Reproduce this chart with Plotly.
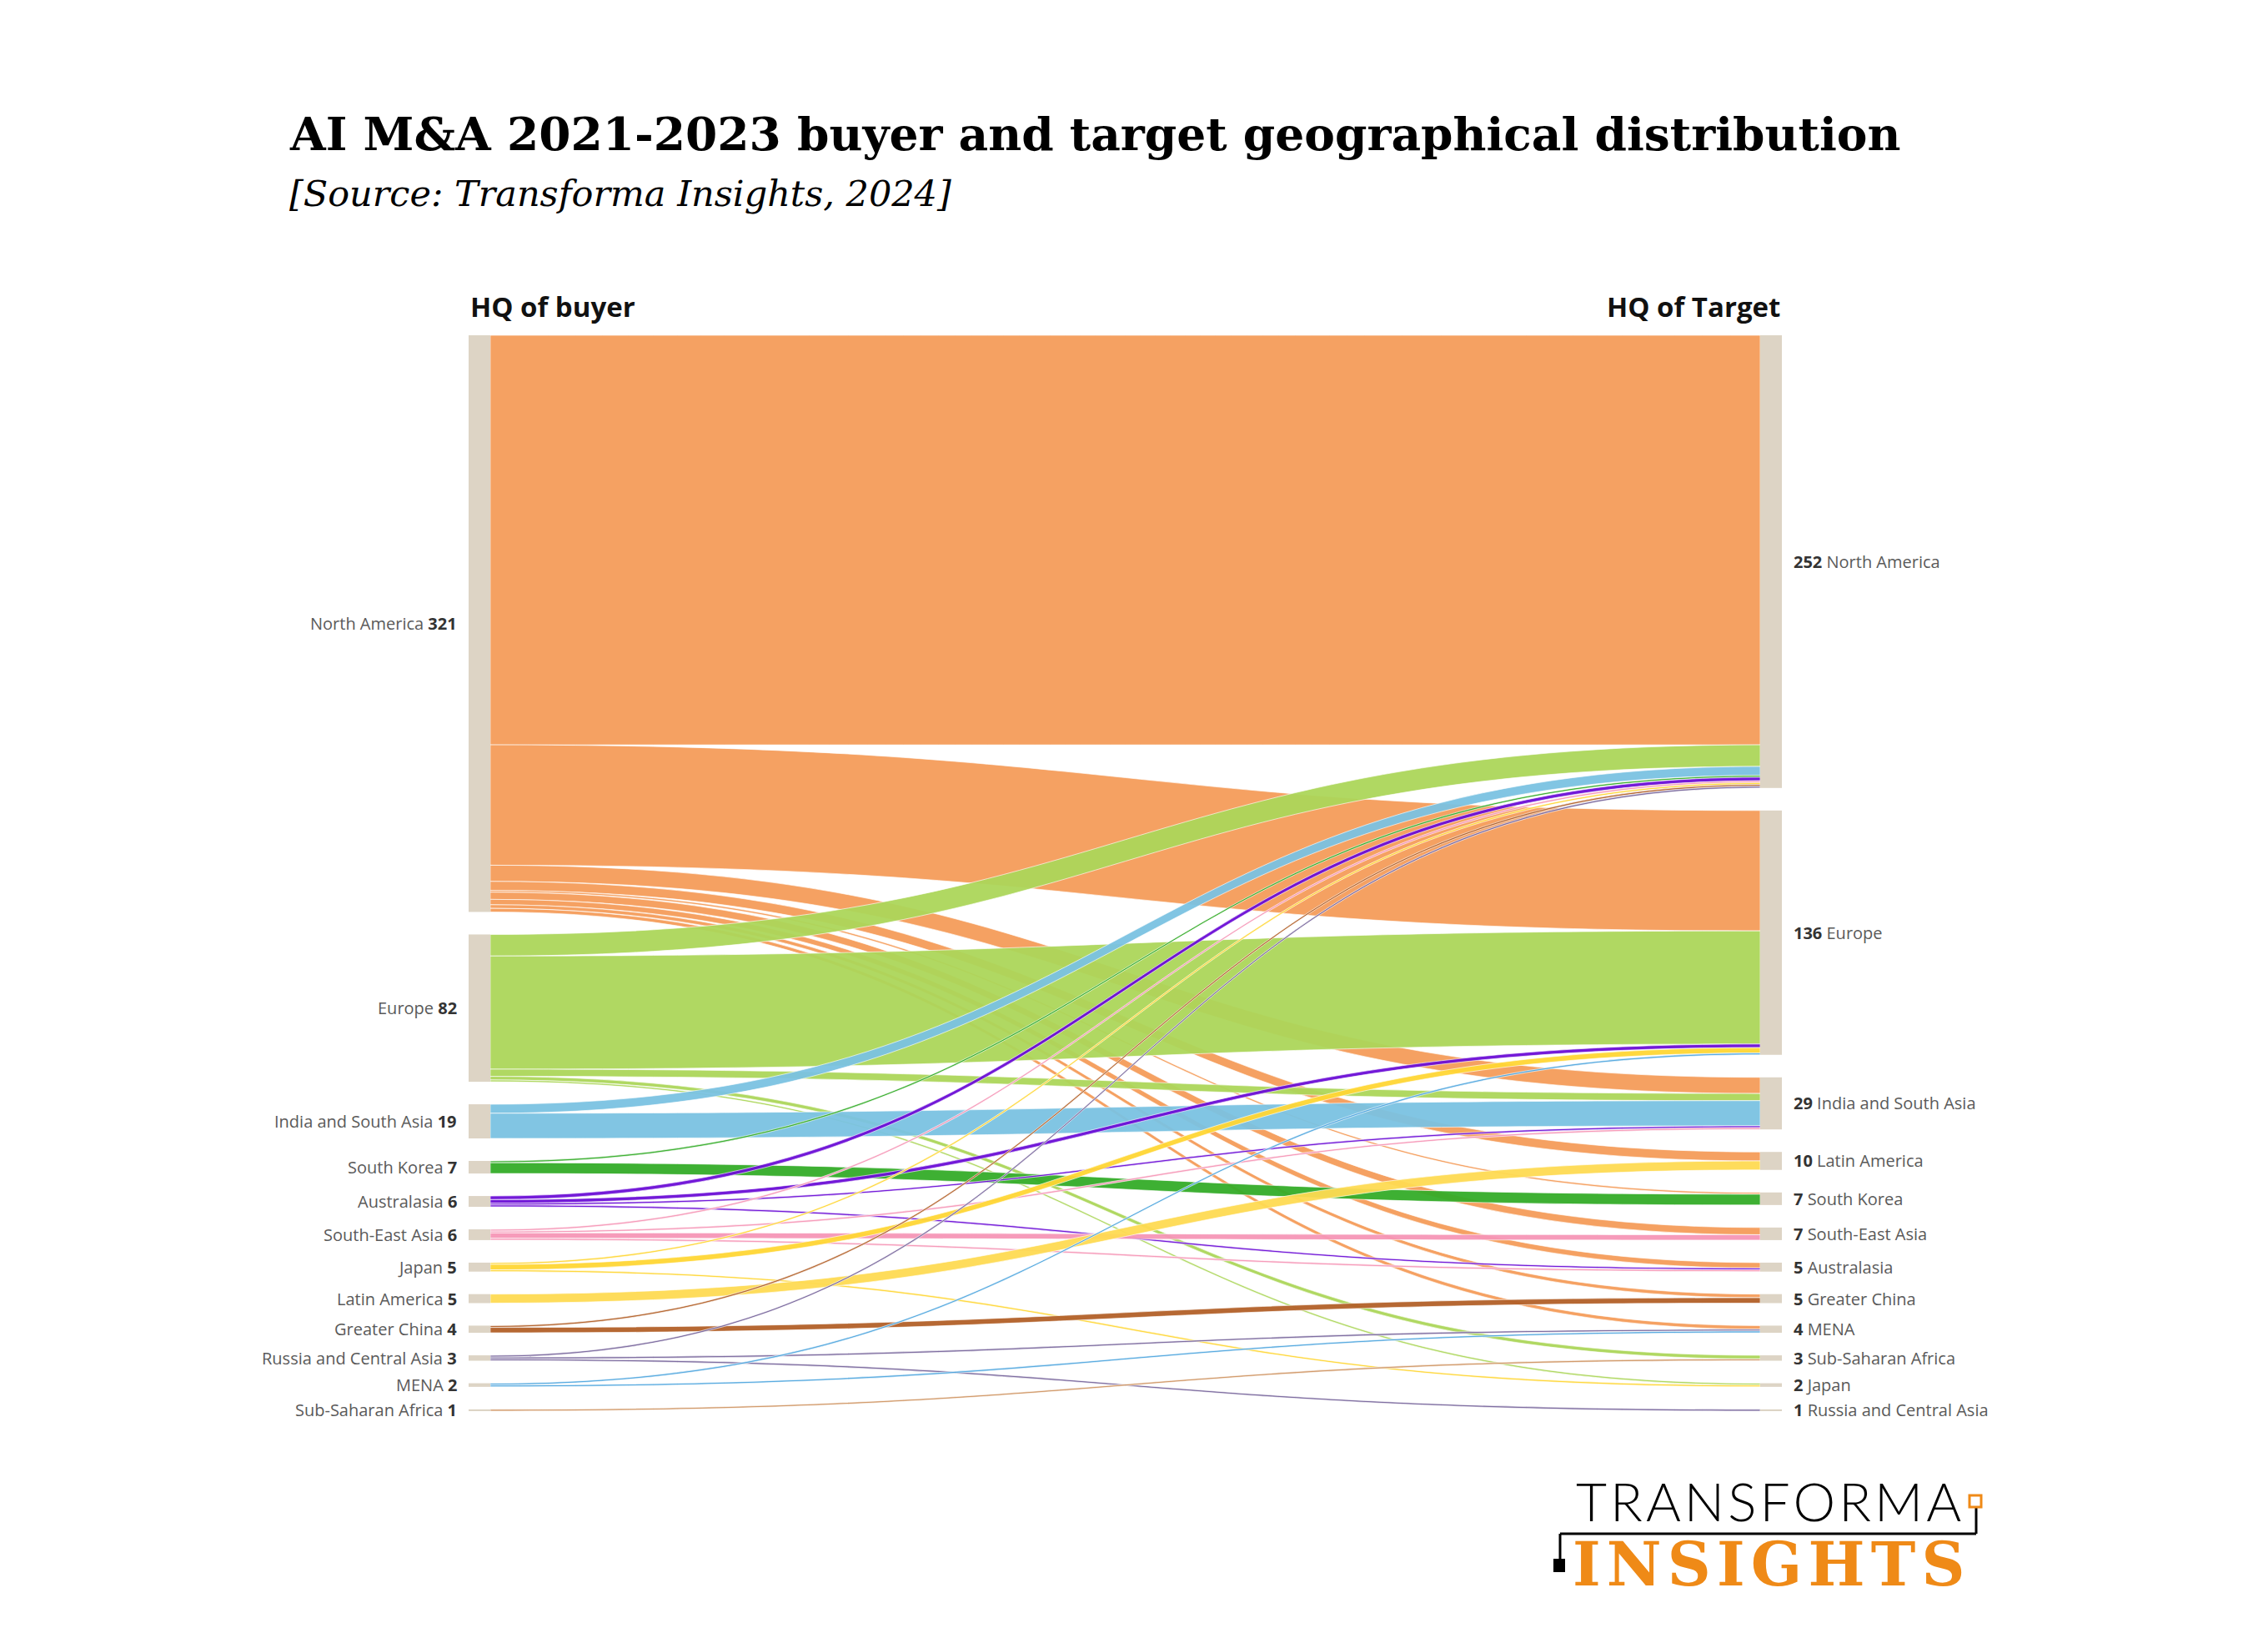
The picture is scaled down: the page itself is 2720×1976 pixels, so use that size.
import plotly.graph_objects as go

# ---------------- data ----------------
BUYERS = ["North America", "Europe", "India and South Asia", "South Korea", "Australasia",
          "South-East Asia", "Japan", "Latin America", "Greater China",
          "Russia and Central Asia", "MENA", "Sub-Saharan Africa"]
TARGETS = ["North America", "Europe", "India and South Asia", "Latin America", "South Korea",
           "South-East Asia", "Australasia", "Greater China", "MENA", "Sub-Saharan Africa",
           "Japan", "Russia and Central Asia"]

# deals by buyer HQ -> target HQ
FLOW_BUYER = ["North America"] * 9 + ["Europe"] * 5 + ["India and South Asia"] * 2 + \
             ["South Korea"] * 2 + ["Australasia"] * 4 + ["South-East Asia"] * 4 + \
             ["Japan"] * 3 + ["Latin America"] + ["Greater China"] * 2 + \
             ["Russia and Central Asia"] * 3 + ["MENA"] * 2 + ["Sub-Saharan Africa"]
FLOW_TARGET = ["North America", "Europe", "India and South Asia", "Latin America", "South Korea",
               "South-East Asia", "Australasia", "Greater China", "MENA",
               "North America", "Europe", "India and South Asia", "Sub-Saharan Africa", "Japan",
               "North America", "India and South Asia",
               "North America", "South Korea",
               "North America", "Europe", "India and South Asia", "Australasia",
               "North America", "India and South Asia", "South-East Asia", "Australasia",
               "North America", "Europe", "Japan",
               "Latin America",
               "North America", "Greater China",
               "North America", "MENA", "Russia and Central Asia",
               "Europe", "MENA",
               "Sub-Saharan Africa"]
FLOW_DEALS = [228, 67, 9, 5, 1, 4, 3, 2, 2,
              12, 63, 4, 2, 1,
              5, 14,
              1, 6,
              2, 2, 1, 1,
              1, 1, 3, 1,
              1, 3, 1,
              5,
              1, 3,
              1, 1, 1,
              1, 1,
              1]

BUYER_COLORS = ["rgba(244,156,90,0.95)", "rgba(172,214,90,0.95)", "rgba(122,194,226,0.95)",
                "rgba(52,172,40,0.95)", "rgba(108,14,214,0.95)", "rgba(246,150,182,0.95)",
                "rgba(255,214,52,0.95)", "rgba(254,218,82,0.95)", "rgba(178,96,40,0.95)",
                "rgba(120,102,156,0.95)", "rgba(80,166,222,0.95)", "rgba(208,150,100,0.95)"]

# ---------------- geometry (page pixels) ----------------
PAGE_OFF = 8                      # default body margin of the html page
FIG_W, FIG_H = 2720 - 2 * PAGE_OFF, 1976 - 2 * PAGE_OFF
TOP_PX, BOTTOM_PX = 402, 1692
NODE_PAD = 27
NODE_THICK = 26
LEFT_CX, RIGHT_CX = 575, 2124
LABEL_GAP = 12


def px(x):
    return (x - PAGE_OFF) / FIG_W


def py(y):
    return 1 - (y - PAGE_OFF) / FIG_H


nb, nt = len(BUYERS), len(TARGETS)
buyer_tot = [sum(v for b, v in zip(FLOW_BUYER, FLOW_DEALS) if b == name) for name in BUYERS]
target_tot = [sum(v for t, v in zip(FLOW_TARGET, FLOW_DEALS) if t == name) for name in TARGETS]
H = BOTTOM_PX - TOP_PX
ky = (H - (nb - 1) * NODE_PAD) / sum(buyer_tot)


def centers(tots):
    out, cum = [], 0
    for i, v in enumerate(tots):
        out.append(cum * ky + i * NODE_PAD + v * ky / 2)
        cum += v
    return out


bc, tc = centers(buyer_tot), centers(target_tot)
DW = (RIGHT_CX - LEFT_CX) / 0.998
DX0 = LEFT_CX - 0.001 * DW

src = [BUYERS.index(b) for b in FLOW_BUYER]
tgt = [nb + TARGETS.index(t) for t in FLOW_TARGET]
lcol = [BUYER_COLORS[s] for s in src]

fig = go.Figure(go.Sankey(
    arrangement="fixed",
    domain=dict(x=[px(DX0), px(DX0 + DW)], y=[py(BOTTOM_PX), py(TOP_PX)]),
    node=dict(
        label=[""] * (nb + nt),
        customdata=BUYERS + TARGETS,
        hovertemplate="%{customdata}: %{value}<extra></extra>",
        x=[0.001] * nb + [0.999] * nt,
        y=[c / H for c in bc] + [c / H for c in tc],
        pad=NODE_PAD,
        thickness=NODE_THICK,
        color="#DDD4C5",
        line=dict(width=0),
    ),
    link=dict(source=src, target=tgt, value=FLOW_DEALS, color=lcol,
              line=dict(color="rgba(255,255,255,0.8)", width=0.8)),
))

ann = []
LBL_FONT = dict(family="Open Sans", size=20, color="#5a5a5a")
for name, v, c in zip(BUYERS, buyer_tot, bc):
    ann.append(dict(x=px(LEFT_CX - NODE_THICK / 2 - LABEL_GAP), y=py(TOP_PX + c), xanchor="right",
                    yanchor="middle", showarrow=False,
                    text=f"{name} <b><span style='color:#333333'>{v}</span></b>", font=LBL_FONT))
for name, v, c in zip(TARGETS, target_tot, tc):
    ann.append(dict(x=px(RIGHT_CX + NODE_THICK / 2 + LABEL_GAP), y=py(TOP_PX + c), xanchor="left",
                    yanchor="middle", showarrow=False,
                    text=f"<b><span style='color:#333333'>{v}</span></b> {name}", font=LBL_FONT))

HDR_FONT = dict(family="Open Sans", size=33, color="#111111")
ann.append(dict(x=px(LEFT_CX - NODE_THICK / 2), y=py(368), xanchor="left", yanchor="middle",
                showarrow=False, text="<b>HQ of buyer</b>", font=HDR_FONT))
ann.append(dict(x=px(RIGHT_CX + NODE_THICK / 2), y=py(368), xanchor="right", yanchor="middle",
                showarrow=False, text="<b>HQ of Target</b>", font=HDR_FONT))

ann.append(dict(x=px(345), y=py(161), xanchor="left", yanchor="middle", showarrow=False,
                text="<b>AI M&A 2021-2023 buyer and target geographical distribution</b>",
                font=dict(family="DejaVu Serif", size=55, color="#000000")))
ann.append(dict(x=px(345), y=py(232), xanchor="left", yanchor="middle", showarrow=False,
                text="<i>[Source: Transforma Insights, 2024]</i>",
                font=dict(family="DejaVu Serif", size=43, color="#000000")))

# logo
HS = "\u200a"
ann.append(dict(x=px(2121), y=py(1799), xanchor="center", yanchor="middle", showarrow=False,
                text=HS.join("TRANSFORMA"),
                font=dict(family="Lato", size=64, color="#000000", weight=300)))
ann.append(dict(x=px(2121), y=py(1875), xanchor="center", yanchor="middle", showarrow=False,
                text="<b>" + HS.join("INSIGHTS") + "</b>",
                font=dict(family="DejaVu Serif", size=72, color="#EF8A17")))

shapes = [
    dict(type="rect", xref="paper", yref="paper", x0=px(1863), x1=px(1877), y0=py(1885), y1=py(1869),
         fillcolor="#000000", line=dict(width=0)),
    dict(type="line", xref="paper", yref="paper", x0=px(1871), x1=px(1871), y0=py(1869), y1=py(1839),
         line=dict(color="#000000", width=3)),
    dict(type="line", xref="paper", yref="paper", x0=px(1871), x1=px(2370), y0=py(1839), y1=py(1839),
         line=dict(color="#000000", width=3)),
    dict(type="line", xref="paper", yref="paper", x0=px(2370), x1=px(2370), y0=py(1839), y1=py(1807),
         line=dict(color="#000000", width=3)),
    dict(type="rect", xref="paper", yref="paper", x0=px(2362), x1=px(2376), y0=py(1807), y1=py(1793),
         fillcolor="#FFFFFF", line=dict(color="#EF8A17", width=3)),
]

fig.update_layout(width=FIG_W, height=FIG_H, margin=dict(l=0, r=0, t=0, b=0),
                  paper_bgcolor="white", plot_bgcolor="white", annotations=ann, shapes=shapes,
                  font=dict(family="Open Sans"))
fig.write_html("out.html")
